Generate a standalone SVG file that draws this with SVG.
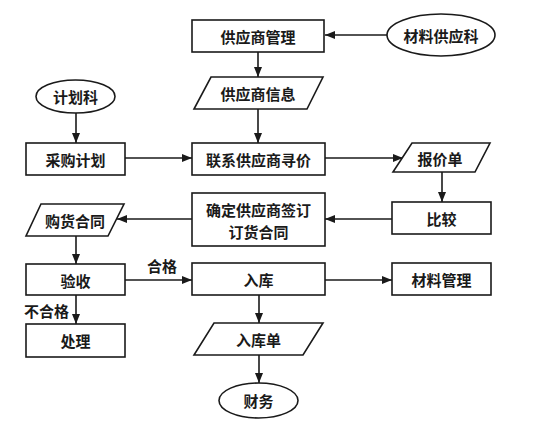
<svg xmlns="http://www.w3.org/2000/svg" width="541" height="435" viewBox="0 0 541 435">
<defs>
<marker id="ah" viewBox="0 0 10 8" refX="10" refY="4" markerWidth="10" markerHeight="8" markerUnits="userSpaceOnUse" orient="auto">
<path d="M0,0 L10,4 L0,8 Z" fill="#1a1a1a"/>
</marker>
<style>
.s{fill:#fff;stroke:#1a1a1a;stroke-width:1.6}
.t{font-family:"Noto Sans CJK SC","Noto Sans",sans-serif;font-size:15px;font-weight:bold;fill:#1a1a1a;text-anchor:middle;dominant-baseline:central}
.c{fill:none;stroke:#1a1a1a;stroke-width:1.6;marker-end:url(#ah)}
</style>
</defs>
<rect width="541" height="435" fill="#fff"/>
<g id="connectors">
<line class="c" x1="387" y1="35" x2="325" y2="35"/>
<line class="c" x1="258" y1="52" x2="258" y2="77"/>
<line class="c" x1="258" y1="109" x2="258" y2="143"/>
<line class="c" x1="76" y1="113" x2="76" y2="143"/>
<line class="c" x1="125" y1="158" x2="192" y2="158"/>
<line class="c" x1="325" y1="158" x2="403" y2="158"/>
<line class="c" x1="442" y1="172" x2="442" y2="202"/>
<line class="c" x1="392" y1="219" x2="325" y2="219"/>
<line class="c" x1="192" y1="219" x2="117" y2="219"/>
<line class="c" x1="76" y1="236" x2="76" y2="264"/>
<line class="c" x1="125" y1="280" x2="192" y2="280"/>
<line class="c" x1="325" y1="280" x2="392" y2="280"/>
<line class="c" x1="76" y1="295" x2="76" y2="324"/>
<line class="c" x1="259" y1="295" x2="259" y2="323"/>
<line class="c" x1="259" y1="355" x2="259" y2="383"/>
<text class="t" x="162" y="265">合格</text>
<text class="t" x="46.5" y="310">不合格</text>
</g>
<g id="n_supplier_mgmt"><rect class="s" x="192" y="20" width="132" height="32"/><text class="t" x="258" y="36">供应商管理</text></g>
<g id="n_material_dept"><ellipse class="s" cx="441" cy="35" rx="54" ry="21"/><text class="t" x="441" y="35">材料供应科</text></g>
<g id="n_supplier_info"><polygon class="s" points="211,77 323,77 307,109 194,109"/><text class="t" x="258" y="93">供应商信息</text></g>
<g id="n_plan_dept"><ellipse class="s" cx="75.5" cy="96.5" rx="39.5" ry="16.5"/><text class="t" x="75.5" y="96.5">计划科</text></g>
<g id="n_purchase_plan"><rect class="s" x="26" y="143" width="99" height="32"/><text class="t" x="75.5" y="159">采购计划</text></g>
<g id="n_inquiry"><rect class="s" x="192" y="143" width="133" height="32"/><text class="t" x="258.5" y="159">联系供应商寻价</text></g>
<g id="n_quote"><polygon class="s" points="412,143 490,143 475,172 393,172"/><text class="t" x="440" y="158">报价单</text></g>
<g id="n_compare"><rect class="s" x="392" y="202" width="99" height="32"/><text class="t" x="441.5" y="218">比较</text></g>
<g id="n_sign"><rect class="s" x="192" y="193" width="133" height="53"/><text class="t" x="258.5" y="209">确定供应商签订</text><text class="t" x="258.5" y="231">订货合同</text></g>
<g id="n_contract"><polygon class="s" points="41,204 124,204 108,236 26,236"/><text class="t" x="75" y="220">购货合同</text></g>
<g id="n_accept"><rect class="s" x="26" y="264" width="99" height="31"/><text class="t" x="75.5" y="280">验收</text></g>
<g id="n_storage"><rect class="s" x="192" y="263" width="133" height="32"/><text class="t" x="258.5" y="279">入库</text></g>
<g id="n_material_mgmt"><rect class="s" x="392" y="263" width="99" height="32"/><text class="t" x="441.5" y="279">材料管理</text></g>
<g id="n_handle"><rect class="s" x="26" y="324" width="99" height="33"/><text class="t" x="75.5" y="340.5">处理</text></g>
<g id="n_storage_slip"><polygon class="s" points="214,323 323,323 303,355 194,355"/><text class="t" x="258.5" y="339">入库单</text></g>
<g id="n_finance"><ellipse class="s" cx="258.5" cy="400.5" rx="39.5" ry="17.5"/><text class="t" x="258.5" y="400.5">财务</text></g>
</svg>
